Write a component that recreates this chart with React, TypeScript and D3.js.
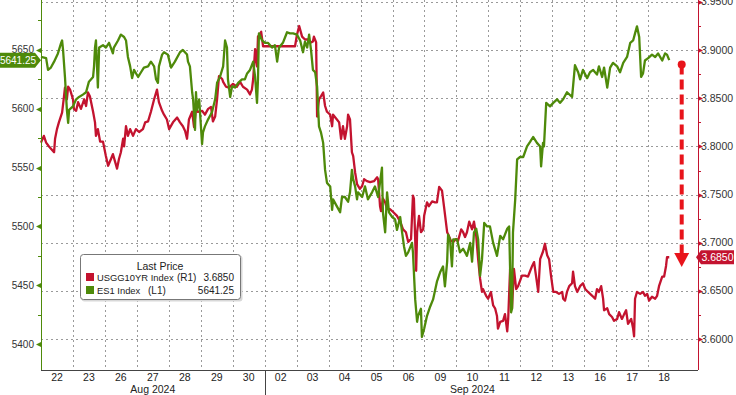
import React, { useEffect, useRef } from 'react';
import * as d3 from 'd3';

// trading sessions shown on the x axis
const DAYS = ['22', '23', '26', '27', '28', '29', '30', '02', '03', '04', '05', '06', '09', '10', '11', '12', '13', '16', '17', '18'];
const MONTHS = [
  { label: 'Aug 2024', from: 0, to: 7 },
  { label: 'Sep 2024', from: 7, to: 20 },
];
const LEFT_TICKS = [5400, 5450, 5500, 5550, 5600, 5650];
const RIGHT_TICKS = [3.6, 3.65, 3.7, 3.75, 3.8, 3.85, 3.9, 3.95];

const ES1_LAST = 5641.25;
const USGG_LAST = 3.685;
const ARROW_FROM = 3.885;
const ARROW_TO = 3.675;

// [session position, price]
const ES1: [number, number][] = [
  [0, 5644], [0.16, 5643], [0.22, 5633], [0.31, 5635], [0.41, 5640], [0.53, 5647], [0.63, 5656], [0.66, 5658],
  [0.69, 5650], [0.75, 5627], [0.81, 5599], [0.85, 5588], [0.88, 5599], [1.0, 5602], [1.1, 5608], [1.19, 5610],
  [1.31, 5612], [1.41, 5614], [1.5, 5623], [1.63, 5627], [1.66, 5636], [1.69, 5652], [1.72, 5658], [1.78, 5618],
  [1.82, 5652], [1.94, 5654], [2.03, 5652], [2.13, 5656], [2.25, 5647], [2.28, 5652], [2.41, 5658], [2.5, 5663],
  [2.6, 5661], [2.66, 5658], [2.72, 5644], [2.79, 5636], [2.85, 5626], [2.91, 5633], [3.04, 5627], [3.13, 5631],
  [3.22, 5635], [3.35, 5636], [3.44, 5640], [3.54, 5636], [3.6, 5625], [3.66, 5622], [3.69, 5636], [3.79, 5646],
  [3.85, 5648], [3.97, 5646], [4.07, 5635], [4.19, 5640], [4.35, 5648], [4.44, 5650], [4.57, 5646], [4.6, 5640],
  [4.66, 5636], [4.73, 5614], [4.76, 5608], [4.82, 5582], [4.85, 5614], [4.88, 5599], [4.95, 5608], [5.04, 5570],
  [5.07, 5580], [5.13, 5585], [5.23, 5591], [5.35, 5597], [5.45, 5608], [5.51, 5622], [5.6, 5627], [5.7, 5636],
  [5.76, 5658], [5.82, 5652], [5.85, 5625], [5.92, 5610], [5.98, 5619], [6.07, 5618], [6.17, 5622], [6.29, 5625],
  [6.38, 5625], [6.45, 5630], [6.54, 5633], [6.64, 5640], [6.7, 5627], [6.76, 5605], [6.79, 5625], [6.82, 5664],
  [6.92, 5658], [7.01, 5656], [7.1, 5656], [7.23, 5652], [7.32, 5654], [7.39, 5640], [7.45, 5652], [7.57, 5656],
  [7.7, 5665], [7.79, 5664], [7.89, 5664], [8.01, 5663], [8.11, 5658], [8.2, 5648], [8.26, 5657], [8.33, 5652],
  [8.39, 5663], [8.45, 5650], [8.51, 5633], [8.58, 5631], [8.64, 5619], [8.7, 5585], [8.76, 5580], [8.83, 5571],
  [8.89, 5548], [8.95, 5537], [9.05, 5534], [9.11, 5514], [9.14, 5523], [9.26, 5517], [9.36, 5512], [9.42, 5525],
  [9.51, 5525], [9.61, 5521], [9.67, 5529], [9.73, 5548], [9.77, 5540], [9.83, 5534], [9.89, 5523], [9.92, 5529],
  [10.05, 5525], [10.14, 5534], [10.23, 5523], [10.36, 5529], [10.45, 5534], [10.55, 5525], [10.67, 5550], [10.7, 5512],
  [10.77, 5495], [10.83, 5529], [10.89, 5512], [10.99, 5508], [11.08, 5506], [11.14, 5497], [11.24, 5508], [11.3, 5495],
  [11.36, 5483], [11.42, 5475], [11.49, 5478], [11.61, 5486], [11.64, 5478], [11.71, 5438], [11.77, 5419], [11.8, 5424],
  [11.89, 5430], [11.92, 5406], [11.99, 5413], [12.08, 5424], [12.18, 5432], [12.27, 5438], [12.39, 5453], [12.49, 5461],
  [12.58, 5466], [12.64, 5449], [12.71, 5470], [12.74, 5493], [12.8, 5489], [12.86, 5466], [12.9, 5489], [13.02, 5489],
  [13.11, 5478], [13.21, 5481], [13.33, 5475], [13.43, 5486], [13.49, 5470], [13.55, 5495], [13.62, 5498], [13.68, 5489],
  [13.74, 5458], [13.8, 5472], [13.87, 5503], [13.96, 5500], [14.05, 5500], [14.15, 5486], [14.27, 5475], [14.37, 5492],
  [14.46, 5489], [14.59, 5498], [14.65, 5500], [14.71, 5427], [14.74, 5430], [14.77, 5495], [14.84, 5523], [14.9, 5557],
  [14.99, 5559], [15.09, 5559], [15.21, 5568], [15.31, 5572], [15.4, 5576], [15.52, 5571], [15.62, 5568], [15.65, 5551],
  [15.71, 5571], [15.74, 5568], [15.81, 5605], [15.93, 5602], [16.03, 5605], [16.15, 5608], [16.24, 5605], [16.34, 5608],
  [16.46, 5614], [16.62, 5610], [16.65, 5619], [16.71, 5637], [16.81, 5631], [16.87, 5625], [16.96, 5633], [17.09, 5626],
  [17.18, 5631], [17.28, 5633], [17.4, 5629], [17.46, 5636], [17.56, 5627], [17.62, 5635], [17.72, 5618], [17.81, 5635],
  [17.9, 5639], [18.03, 5636], [18.12, 5631], [18.22, 5639], [18.34, 5644], [18.44, 5656], [18.53, 5658], [18.59, 5664],
  [18.65, 5670], [18.72, 5661], [18.78, 5627], [18.84, 5630], [18.9, 5641], [19.0, 5643], [19.12, 5646], [19.22, 5644],
  [19.31, 5647], [19.44, 5641], [19.53, 5647], [19.59, 5646], [19.66, 5641.25],
];

const USGG10YR: [number, number][] = [
  [0, 3.804], [0.09, 3.811], [0.16, 3.804], [0.25, 3.8], [0.41, 3.794], [0.44, 3.808], [0.5, 3.818], [0.56, 3.825],
  [0.66, 3.835], [0.72, 3.852], [0.75, 3.861], [0.81, 3.849], [0.85, 3.862], [0.91, 3.859], [1.0, 3.849], [1.03, 3.839],
  [1.1, 3.837], [1.16, 3.846], [1.25, 3.839], [1.35, 3.849], [1.41, 3.842], [1.47, 3.856], [1.53, 3.852], [1.63, 3.836],
  [1.69, 3.825], [1.72, 3.811], [1.78, 3.818], [1.85, 3.805], [1.94, 3.805], [2.03, 3.79], [2.1, 3.78], [2.19, 3.787],
  [2.25, 3.792], [2.32, 3.784], [2.38, 3.777], [2.44, 3.787], [2.5, 3.794], [2.57, 3.808], [2.6, 3.8], [2.66, 3.821],
  [2.72, 3.811], [2.79, 3.818], [2.88, 3.811], [2.97, 3.818], [3.07, 3.815], [3.19, 3.818], [3.26, 3.825], [3.35, 3.826],
  [3.44, 3.836], [3.54, 3.849], [3.63, 3.859], [3.69, 3.846], [3.79, 3.837], [3.85, 3.833], [3.94, 3.828], [4.01, 3.818],
  [4.13, 3.825], [4.26, 3.83], [4.35, 3.825], [4.44, 3.821], [4.51, 3.816], [4.57, 3.808], [4.63, 3.828], [4.73, 3.836],
  [4.79, 3.82], [4.85, 3.839], [4.91, 3.836], [5.04, 3.837], [5.13, 3.833], [5.23, 3.839], [5.32, 3.841], [5.38, 3.826],
  [5.45, 3.831], [5.51, 3.849], [5.57, 3.873], [5.67, 3.87], [5.7, 3.867], [5.79, 3.862], [5.88, 3.861], [6.01, 3.865],
  [6.13, 3.862], [6.23, 3.867], [6.32, 3.862], [6.45, 3.859], [6.54, 3.854], [6.6, 3.859], [6.64, 3.87], [6.7, 3.901],
  [6.76, 3.883], [6.79, 3.914], [6.89, 3.919], [6.95, 3.904], [7.95, 3.904], [8.01, 3.916], [8.08, 3.925], [8.17, 3.914],
  [8.26, 3.911], [8.36, 3.911], [8.45, 3.908], [8.51, 3.909], [8.54, 3.914], [8.61, 3.908], [8.64, 3.831], [8.7, 3.849],
  [8.76, 3.852], [8.83, 3.856], [8.89, 3.842], [8.95, 3.836], [9.05, 3.833], [9.11, 3.821], [9.14, 3.833], [9.26, 3.828],
  [9.33, 3.825], [9.39, 3.808], [9.45, 3.821], [9.51, 3.808], [9.58, 3.821], [9.61, 3.833], [9.67, 3.828], [9.73, 3.794],
  [9.77, 3.79], [9.83, 3.773], [9.89, 3.761], [9.98, 3.756], [10.05, 3.759], [10.11, 3.766], [10.2, 3.764], [10.3, 3.763],
  [10.42, 3.764], [10.52, 3.768], [10.55, 3.766], [10.61, 3.738], [10.64, 3.733], [10.7, 3.746], [10.77, 3.742], [10.83, 3.735],
  [10.92, 3.735], [11.02, 3.732], [11.14, 3.728], [11.24, 3.722], [11.33, 3.714], [11.42, 3.711], [11.49, 3.701], [11.58, 3.704],
  [11.64, 3.749], [11.67, 3.746], [11.74, 3.671], [11.77, 3.711], [11.83, 3.728], [11.89, 3.711], [11.96, 3.714], [11.99, 3.728],
  [12.08, 3.742], [12.14, 3.738], [12.24, 3.743], [12.33, 3.742], [12.39, 3.742], [12.46, 3.758], [12.55, 3.754], [12.61, 3.738],
  [12.71, 3.711], [12.74, 3.709], [12.83, 3.702], [12.9, 3.701], [12.99, 3.704], [13.05, 3.702], [13.15, 3.714], [13.21, 3.711],
  [13.27, 3.706], [13.33, 3.711], [13.4, 3.722], [13.49, 3.714], [13.55, 3.722], [13.62, 3.707], [13.68, 3.683], [13.74, 3.663],
  [13.8, 3.649], [13.83, 3.652], [13.93, 3.645], [13.99, 3.642], [14.08, 3.649], [14.15, 3.635], [14.21, 3.632], [14.27, 3.624],
  [14.3, 3.611], [14.37, 3.618], [14.46, 3.619], [14.52, 3.626], [14.59, 3.608], [14.62, 3.621], [14.68, 3.673], [14.74, 3.632],
  [14.8, 3.673], [14.87, 3.652], [14.93, 3.655], [15.05, 3.666], [15.15, 3.666], [15.24, 3.665], [15.37, 3.676], [15.43, 3.68],
  [15.49, 3.666], [15.56, 3.649], [15.62, 3.683], [15.71, 3.691], [15.77, 3.699], [15.84, 3.687], [15.9, 3.683], [15.96, 3.666],
  [16.03, 3.649], [16.12, 3.649], [16.21, 3.647], [16.31, 3.649], [16.34, 3.642], [16.4, 3.64], [16.46, 3.649], [16.53, 3.655],
  [16.62, 3.658], [16.65, 3.67], [16.71, 3.655], [16.78, 3.649], [16.87, 3.655], [16.96, 3.658], [17.03, 3.652], [17.12, 3.649],
  [17.25, 3.645], [17.34, 3.642], [17.4, 3.652], [17.46, 3.649], [17.53, 3.655], [17.59, 3.642], [17.62, 3.63], [17.72, 3.632],
  [17.78, 3.626], [17.87, 3.623], [17.93, 3.619], [18.03, 3.621], [18.09, 3.628], [18.18, 3.621], [18.25, 3.626], [18.31, 3.63],
  [18.37, 3.616], [18.47, 3.621], [18.53, 3.611], [18.56, 3.603], [18.59, 3.642], [18.65, 3.649], [18.75, 3.647], [18.84, 3.649],
  [18.9, 3.645], [18.97, 3.647], [19.03, 3.64], [19.12, 3.644], [19.22, 3.642], [19.28, 3.645], [19.34, 3.655], [19.44, 3.665],
  [19.5, 3.665], [19.56, 3.676], [19.59, 3.685], [19.66, 3.685],
];

const W = 736;
const H = 395;
const GREEN = '#4e8a0a';
const RED = '#c3132f';
const ARROW_RED = '#e8141b';
const FONT = '"Liberation Sans", Arial, sans-serif';

const App = () => {
  const svgRef = useRef<SVGSVGElement>(null);

  useEffect(() => {
    const svg = d3.select(svgRef.current);
    svg.selectAll('*').remove();

    const left = 41;
    const right = 698;
    const bottom = 370;

    const x = d3.scaleLinear().domain([0, 20.56]).range([left, right]);
    const yL = d3.scaleLinear().domain([5378, 5692.4]).range([bottom, 0]);
    const yR = d3.scaleLinear().domain([3.568, 3.952]).range([bottom, 0]);

    svg.append('rect').attr('width', W).attr('height', H).attr('fill', '#fff');

    // grid
    const grid = svg.append('g').attr('stroke', '#9a9a9a').attr('stroke-width', 1).attr('stroke-dasharray', '2,3');
    RIGHT_TICKS.forEach((t) => {
      const y = Math.round(yR(t)) + 0.5;
      grid.append('line').attr('x1', left).attr('x2', right).attr('y1', y).attr('y2', y);
    });
    d3.range(1, DAYS.length).forEach((i) => {
      const xx = Math.round(x(i)) + 0.5;
      grid.append('line').attr('x1', xx).attr('x2', xx).attr('y1', 0).attr('y2', bottom);
    });

    // series
    const line = d3
      .line<[number, number]>()
      .x((d) => x(d[0]));

    svg
      .append('path')
      .datum(USGG10YR)
      .attr('d', line.y((d) => yR(d[1])))
      .attr('fill', 'none')
      .attr('stroke', RED)
      .attr('stroke-width', 2.3)
      .attr('stroke-linejoin', 'round');

    svg
      .append('path')
      .datum(ES1)
      .attr('d', line.y((d) => yL(d[1])))
      .attr('fill', 'none')
      .attr('stroke', GREEN)
      .attr('stroke-width', 2.3)
      .attr('stroke-linejoin', 'round');

    // x axis
    svg.append('line').attr('x1', left).attr('x2', right).attr('y1', bottom + 0.5).attr('y2', bottom + 0.5).attr('stroke', '#444');
    const xm = Math.round(x(7)) + 0.5;
    svg.append('line').attr('x1', xm).attr('x2', xm).attr('y1', bottom).attr('y2', H).attr('stroke', '#444');

    svg
      .append('g')
      .selectAll('text')
      .data(DAYS)
      .enter()
      .append('text')
      .attr('x', (d, i) => x(i + 0.5))
      .attr('y', 381)
      .attr('text-anchor', 'middle')
      .attr('font-family', FONT)
      .attr('font-size', 10.5)
      .attr('fill', '#222')
      .text((d) => d);

    svg
      .append('g')
      .selectAll('text')
      .data(MONTHS)
      .enter()
      .append('text')
      .attr('x', (d) => x((d.from + d.to) / 2))
      .attr('y', 393)
      .attr('text-anchor', 'middle')
      .attr('font-family', FONT)
      .attr('font-size', 10.5)
      .attr('fill', '#222')
      .text((d) => d.label);

    // left axis
    svg.append('line').attr('x1', left + 0.5).attr('x2', left + 0.5).attr('y1', 0).attr('y2', bottom).attr('stroke', GREEN);
    d3.range(5400, 5700, 25).forEach((v) => {
      const y = Math.round(yL(v)) + 0.5;
      if (v % 50 === 0) {
        svg.append('path').attr('d', `M${left},${y - 2.5}L${left - 5},${y}L${left},${y + 2.5}Z`).attr('fill', GREEN);
      } else {
        svg.append('line').attr('x1', left - 3).attr('x2', left).attr('y1', y).attr('y2', y).attr('stroke', GREEN);
      }
    });
    svg
      .append('g')
      .selectAll('text')
      .data(LEFT_TICKS)
      .enter()
      .append('text')
      .attr('x', 34)
      .attr('y', (d) => yL(d) + 3.5)
      .attr('text-anchor', 'end')
      .attr('font-family', FONT)
      .attr('font-size', 10)
      .attr('fill', '#333')
      .text((d) => d);

    // right axis
    svg.append('line').attr('x1', right + 0.5).attr('x2', right + 0.5).attr('y1', 0).attr('y2', bottom).attr('stroke', RED);
    d3.range(0, 15).forEach((k) => {
      const v = 3.6 + k * 0.025;
      const y = Math.round(yR(v)) + 0.5;
      if (k % 2 === 0) {
        svg.append('path').attr('d', `M${right},${y - 2.5}L${right + 5},${y}L${right},${y + 2.5}Z`).attr('fill', RED);
      } else {
        svg.append('line').attr('x1', right).attr('x2', right + 3).attr('y1', y).attr('y2', y).attr('stroke', RED);
      }
    });
    svg
      .append('g')
      .selectAll('text')
      .data(RIGHT_TICKS)
      .enter()
      .append('text')
      .attr('x', 701)
      .attr('y', (d) => yR(d) + 3.5)
      .attr('font-family', FONT)
      .attr('font-size', 10.5)
      .attr('fill', '#333')
      .text((d) => d.toFixed(4));

    // last value tags
    const yl = yL(ES1_LAST);
    svg.append('path').attr('d', `M0,${yl - 7.5}H35L41,${yl}L35,${yl + 7.5}H0Z`).attr('fill', GREEN);
    svg
      .append('text')
      .attr('x', 18)
      .attr('y', yl + 3.5)
      .attr('text-anchor', 'middle')
      .attr('font-family', FONT)
      .attr('font-size', 10)
      .attr('fill', '#fff')
      .text(ES1_LAST.toFixed(2));

    const yr = yR(USGG_LAST);
    svg.append('path').attr('d', `M696,${yr}L701,${yr - 7}H734V${yr + 7}H701Z`).attr('fill', RED);
    svg
      .append('text')
      .attr('x', 717.5)
      .attr('y', yr + 3.5)
      .attr('text-anchor', 'middle')
      .attr('font-family', FONT)
      .attr('font-size', 10.5)
      .attr('fill', '#fff')
      .text(USGG_LAST.toFixed(4));

    // annotation arrow
    const ax = x(20.05);
    const ay0 = yR(ARROW_FROM);
    const ay1 = yR(ARROW_TO);
    svg
      .append('line')
      .attr('x1', ax)
      .attr('x2', ax)
      .attr('y1', ay0)
      .attr('y2', ay1 - 14)
      .attr('stroke', ARROW_RED)
      .attr('stroke-width', 4)
      .attr('stroke-dasharray', '10,5');
    svg.append('circle').attr('cx', ax).attr('cy', ay0).attr('r', 4).attr('fill', ARROW_RED);
    svg
      .append('path')
      .attr('d', `M${ax - 7.5},${ay1 - 14}H${ax + 7.5}L${ax},${ay1}Z`)
      .attr('fill', ARROW_RED);

    // legend
    const lg = svg.append('g').attr('font-family', FONT).attr('font-size', 10).attr('fill', '#222');
    lg.append('rect').attr('x', 81.5).attr('y', 255.5).attr('width', 161).attr('height', 46).attr('rx', 3).attr('fill', '#d8d8d8');
    lg.append('rect')
      .attr('x', 80.5)
      .attr('y', 254.5)
      .attr('width', 160)
      .attr('height', 45)
      .attr('rx', 3)
      .attr('fill', '#fff')
      .attr('stroke', '#777');
    lg.append('text').attr('x', 160).attr('y', 270).attr('text-anchor', 'middle').attr('font-size', 10.5).text('Last Price');
    const rows = [
      { color: RED, name: 'USGG10YR Index', axis: '(R1)', axisX: 177, value: USGG_LAST.toFixed(4) },
      { color: GREEN, name: 'ES1 Index', axis: '(L1)', axisX: 148, value: ES1_LAST.toFixed(2) },
    ];
    rows.forEach((r, i) => {
      const by = 281 + i * 13;
      lg.append('rect').attr('x', 86).attr('y', by - 8).attr('width', 8).attr('height', 8).attr('fill', r.color);
      lg.append('text').attr('x', 97).attr('y', by).attr('font-size', 9.4).text(r.name);
      lg.append('text').attr('x', r.axisX).attr('y', by).text(r.axis);
      lg.append('text').attr('x', 234).attr('y', by).attr('text-anchor', 'end').text(r.value);
    });
  }, []);

  return (
    <div style={{ position: 'absolute', left: 0, top: 0 }}>
      <svg ref={svgRef} width={W} height={H} style={{ display: 'block' }} />
    </div>
  );
};

export default App;
